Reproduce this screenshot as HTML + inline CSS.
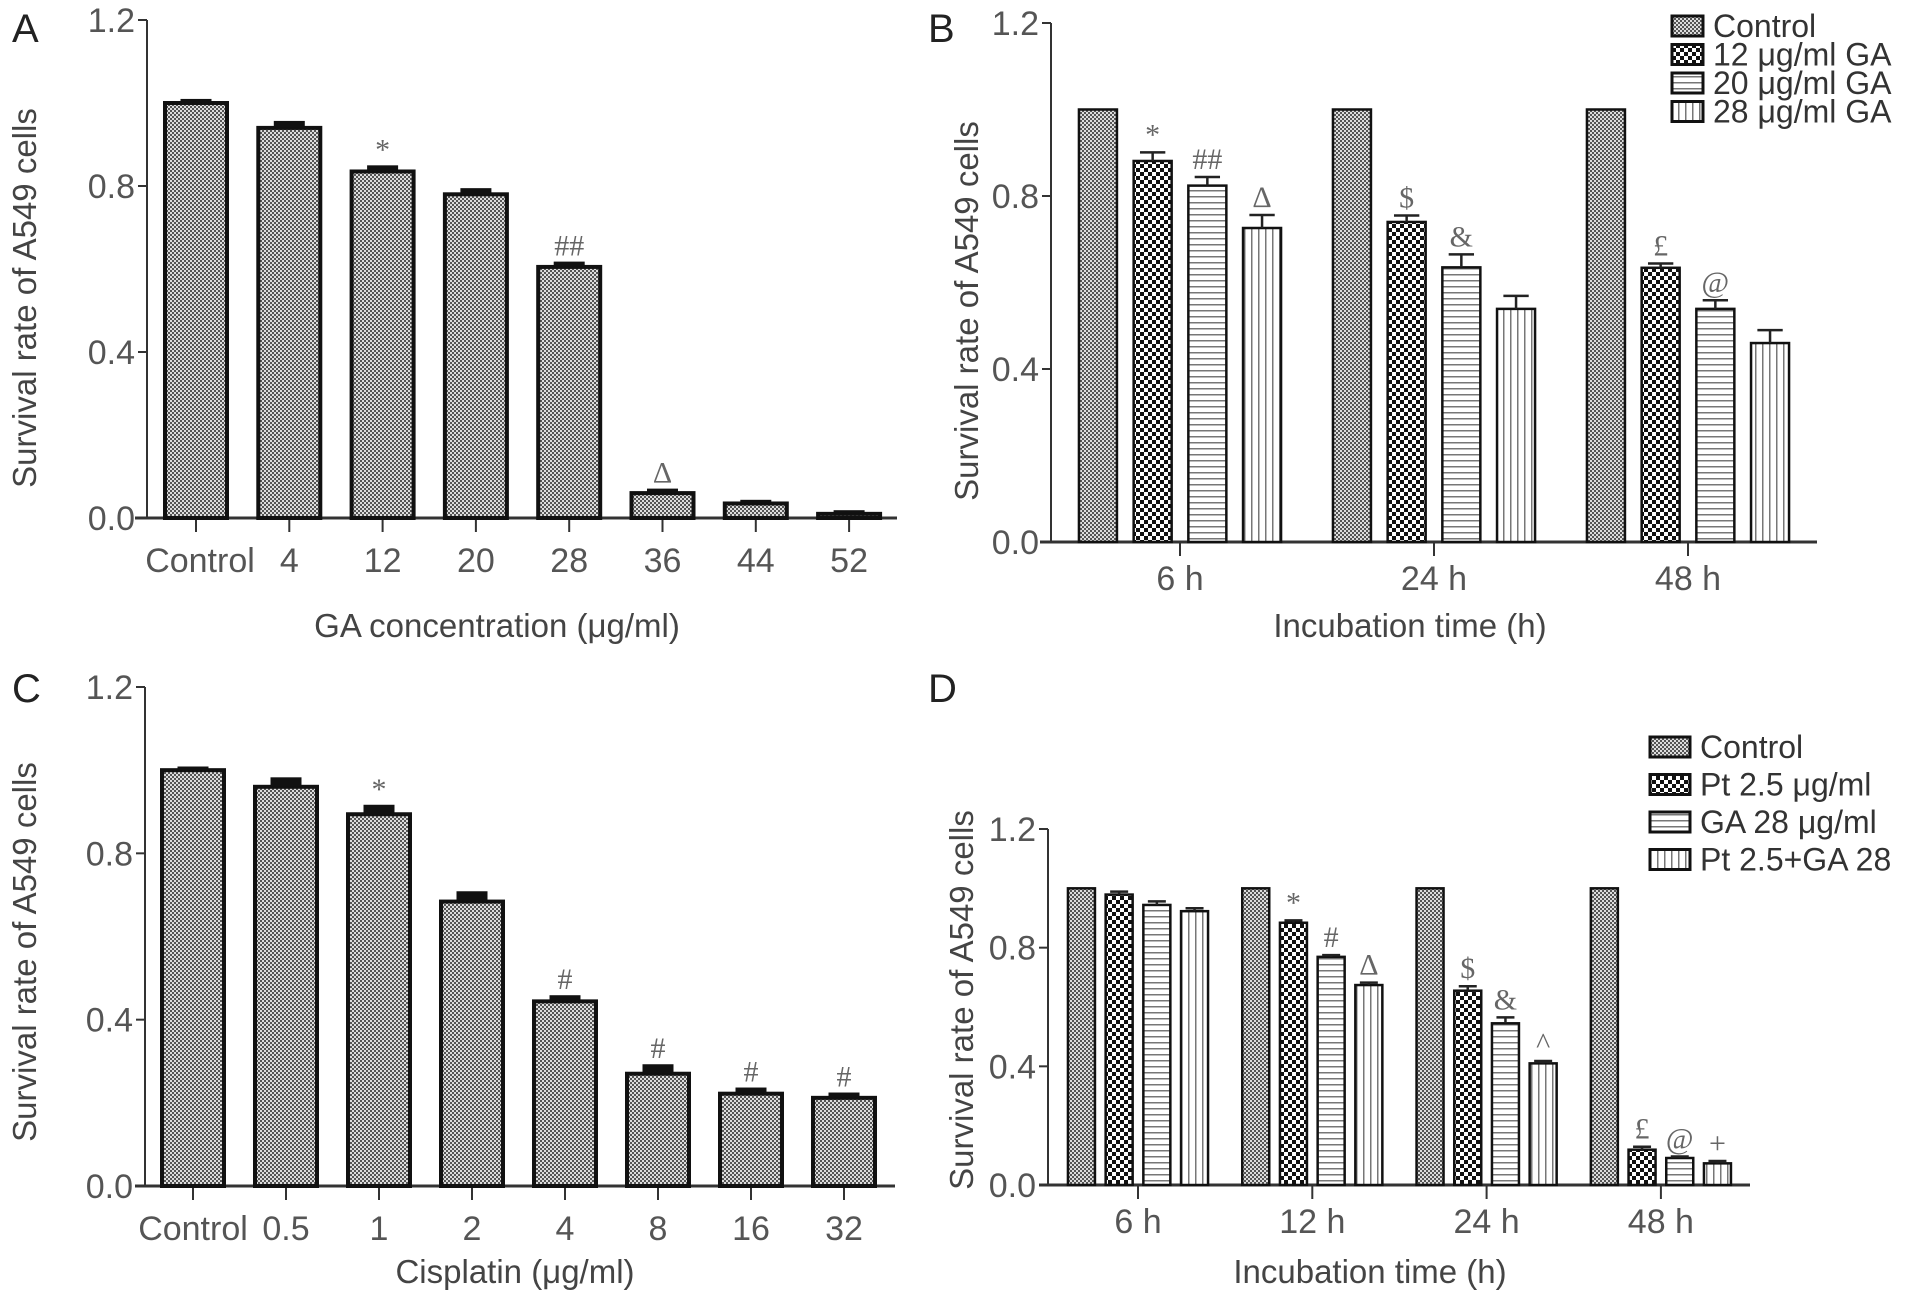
<!DOCTYPE html>
<html><head><meta charset="utf-8">
<style>
html,body{margin:0;padding:0;background:#fff;}
svg{display:block;font-family:"Liberation Sans",sans-serif;}
.tick{fill:#555;font-size:34px;}
.ttl{fill:#444;font-size:33px;}
.ann{fill:#666;font-family:"Liberation Serif",serif;font-size:30px;}
.lbl{fill:#222;font-size:40px;}
.leg{fill:#333;font-size:32px;}
</style></head>
<body>
<svg id="fig" width="1913" height="1300" viewBox="0 0 1913 1300" xmlns="http://www.w3.org/2000/svg">
<defs>
<pattern id="pFine" width="4" height="4" patternUnits="userSpaceOnUse"><rect width="4" height="4" fill="#ddd"/><rect width="2" height="2" fill="#555"/><rect x="2" y="2" width="2" height="2" fill="#555"/></pattern>
<pattern id="pCheck" width="8" height="8" patternUnits="userSpaceOnUse"><rect width="8" height="8" fill="#fff"/><rect width="4" height="4" fill="#111"/><rect x="4" y="4" width="4" height="4" fill="#111"/></pattern>
<pattern id="pHoriz" width="6" height="6" patternUnits="userSpaceOnUse"><rect width="6" height="6" fill="#fff"/><rect y="4" width="6" height="1.5" fill="#777"/></pattern>
<pattern id="pVert" width="7" height="7" patternUnits="userSpaceOnUse"><rect width="7" height="7" fill="#fff"/><rect x="5" width="1.5" height="7" fill="#777"/></pattern>
</defs>
<g id="root"></g>
</svg>
<script>
// Panel A data
const aCategories = ["Control","4","12","20","28","36","44","52"];
const aValues = [1.0,0.94,0.835,0.78,0.605,0.06,0.035,0.01];
const aErrors = [0.005,0.012,0.01,0.01,0.008,0.006,0.004,0.004];
const aAnn = ["","","*","","##","\u0394","",""];
// Panel C data
const cCategories = ["Control","0.5","1","2","4","8","16","32"];
const cValues = [1.0,0.96,0.894,0.684,0.444,0.27,0.222,0.212];
const cErrors = [0.004,0.018,0.018,0.02,0.01,0.018,0.01,0.008];
const cAnn = ["","","*","","#","#","#","#"];
// Panel B data
const bGroups = ["6 h","24 h","48 h"];
const bSeries = ["Control","12 \u03bcg/ml GA","20 \u03bcg/ml GA","28 \u03bcg/ml GA"];
const bValues = [[1,1,1],[0.881,0.74,0.634],[0.824,0.635,0.539],[0.726,0.539,0.46]];
const bErrors = [[0,0,0],[0.02,0.015,0.01],[0.02,0.03,0.02],[0.03,0.03,0.03]];
const bAnn = [["","",""],["*","$","\u00a3"],["##","&","@"],["\u0394","",""]];
// Panel D data
const dGroups = ["6 h","12 h","24 h","48 h"];
const dSeries = ["Control","Pt 2.5 \u03bcg/ml","GA 28 \u03bcg/ml","Pt 2.5+GA 28"];
const dValues = [[1,1,1,1],[0.979,0.884,0.655,0.119],[0.944,0.769,0.545,0.091],[0.923,0.674,0.41,0.073]];
const dErrors = [[0,0,0,0],[0.01,0.008,0.015,0.01],[0.012,0.006,0.02,0.005],[0.01,0.008,0.008,0.008]];
const dAnn = [["","","",""],["","*","$","\u00a3"],["","#","&","@"],["","\u0394","^","+"]];
const yTicks = [0.0,0.4,0.8,1.2];

const NS="http://www.w3.org/2000/svg";
const root=document.getElementById('root');
function mk(tag,attrs,parent,text){const e=document.createElementNS(NS,tag);for(const k in attrs)e.setAttribute(k,attrs[k]);if(text!==undefined)e.textContent=text;(parent||root).appendChild(e);return e;}

function axes(p,g){
  const ys=v=>p.y0-(v/1.2)*(p.y0-p.y12);
  const yAxis=mk('line',{x1:p.ax,y1:p.y12,x2:p.ax,y2:p.y0,stroke:'#333','stroke-width':2},g);
  
  
  yTicks.forEach(t=>{
    mk('line',{x1:p.ax-9,y1:ys(t),x2:p.ax,y2:ys(t),stroke:'#333','stroke-width':2},g);
    const tl=mk('text',{x:p.ax-12,y:ys(t)+12,'text-anchor':'end',class:'tick'},g,t.toFixed(1));
    
    
  });
  const xAxis=mk('line',{x1:p.xa0,y1:p.y0,x2:p.xa1,y2:p.y0,stroke:'#333','stroke-width':3},g);
  
  
  const yt=mk('text',{x:p.ylx,y:p.yly,'text-anchor':'middle',class:'ttl',transform:`rotate(-90 ${p.ylx} ${p.yly})`},g,'Survival rate of A549 cells');
  
  
  const xt=mk('text',{x:p.xtx,y:p.xty,'text-anchor':'middle',class:'ttl'},g,p.xtitle);
  
  
  const pl=mk('text',{x:p.lx,y:p.ly,class:'lbl'},g,p.letter);
  
  
  return ys;
}

function bar(g,x,w,top,y0,fill,sw,err,ys,v,ann,thick){
  const r=mk('rect',{x:x-w/2,y:top,width:w,height:y0-top,fill:fill,stroke:'#111','stroke-width':sw},g);
  
  
  let et=top;
  if(err>0){
    et=ys(v+err);
    if(thick){mk('rect',{x:x-w/4,y:et-2,width:w/2,height:top-et+2,fill:'#111'},g);}
    else{
      mk('line',{x1:x,y1:top,x2:x,y2:et,stroke:'#222','stroke-width':2.5},g);
      mk('line',{x1:x-w/3,y1:et,x2:x+w/3,y2:et,stroke:'#222','stroke-width':2.5},g);
    }
  }
  if(ann){
    const a=mk('text',{x:x,y:et-8,'text-anchor':'middle',class:'ann'},g,ann);
    
    
  }
}

function simplePanel(p,cats,vals,errs,anns,name){
  const g=mk('g',{});
  
  
  const ys=axes(p,g);
  cats.forEach((c,i)=>{
    const x=p.x0+i*p.step;
    mk('line',{x1:x,y1:p.y0,x2:x,y2:p.y0+14,stroke:'#333','stroke-width':2},g);
    const t=mk('text',{x:x+(i===0?p.c0off:0),y:p.y0+54,'text-anchor':'middle',class:'tick'},g,c);
    
    
    bar(g,x,p.bw,ys(vals[i]),p.y0,'url(#pFine)',4,errs[i],ys,vals[i],anns[i],true);
  });
}

const fills=['url(#pFine)','url(#pCheck)','url(#pHoriz)','url(#pVert)'];
function groupPanel(p,groups,series,vals,errs,anns,name){
  const g=mk('g',{});
  
  
  const ys=axes(p,g);
  groups.forEach((gr,j)=>{
    const cx=p.g0+j*p.gstep;
    mk('line',{x1:cx,y1:p.y0,x2:cx,y2:p.y0+14,stroke:'#333','stroke-width':2},g);
    const t=mk('text',{x:cx,y:p.y0+48,'text-anchor':'middle',class:'tick'},g,gr);
    
    
    series.forEach((s,i)=>{
      const x=cx+(i-1.5)*p.bstep;
      bar(g,x,p.bw,ys(vals[i][j]),p.y0,fills[i],2.5,errs[i][j],ys,vals[i][j],anns[i][j],false);
    });
  });
  series.forEach((s,i)=>{
    const y=p.legY+i*p.legStep;
    const sw=mk('rect',{x:p.legX,y:y-20,width:p.legW,height:20,fill:fills[i],stroke:'#111','stroke-width':3},g);
    
    
    const t=mk('text',{x:p.legX+p.legW+10,y:y+1,class:'leg'},g,s);
    
    
  });
}

simplePanel({ax:147,y0:518,y12:20,xa0:135,xa1:897,x0:196,step:93.3,bw:62,c0off:4,
  ylx:36,yly:298,xtx:497,xty:637,xtitle:'GA concentration (\u03bcg/ml)',lx:12,ly:42,letter:'A'},
  aCategories,aValues,aErrors,aAnn,'panel-a');
simplePanel({ax:145,y0:1186,y12:687,xa0:135,xa1:895,x0:193,step:93,bw:62,c0off:0,
  ylx:36,yly:952,xtx:515,xty:1283,xtitle:'Cisplatin (\u03bcg/ml)',lx:12,ly:702,letter:'C'},
  cCategories,cValues,cErrors,cAnn,'panel-c');
groupPanel({ax:1051,y0:542,y12:23,xa0:1040,xa1:1817,g0:1180,gstep:254,bstep:54.7,bw:38,
  ylx:978,yly:311,xtx:1410,xty:637,xtitle:'Incubation time (h)',lx:928,ly:42,letter:'B',
  legX:1672,legY:36,legStep:28.5,legW:31},
  bGroups,bSeries,bValues,bErrors,bAnn,'panel-b');
groupPanel({ax:1048,y0:1185,y12:829,xa0:1039,xa1:1750,g0:1138,gstep:174.3,bstep:37.7,bw:27,
  ylx:973,yly:1000,xtx:1370,xty:1283,xtitle:'Incubation time (h)',lx:928,ly:702,letter:'D',
  legX:1650,legY:757,legStep:37.5,legW:40},
  dGroups,dSeries,dValues,dErrors,dAnn,'panel-d');
</script>
</body></html>
